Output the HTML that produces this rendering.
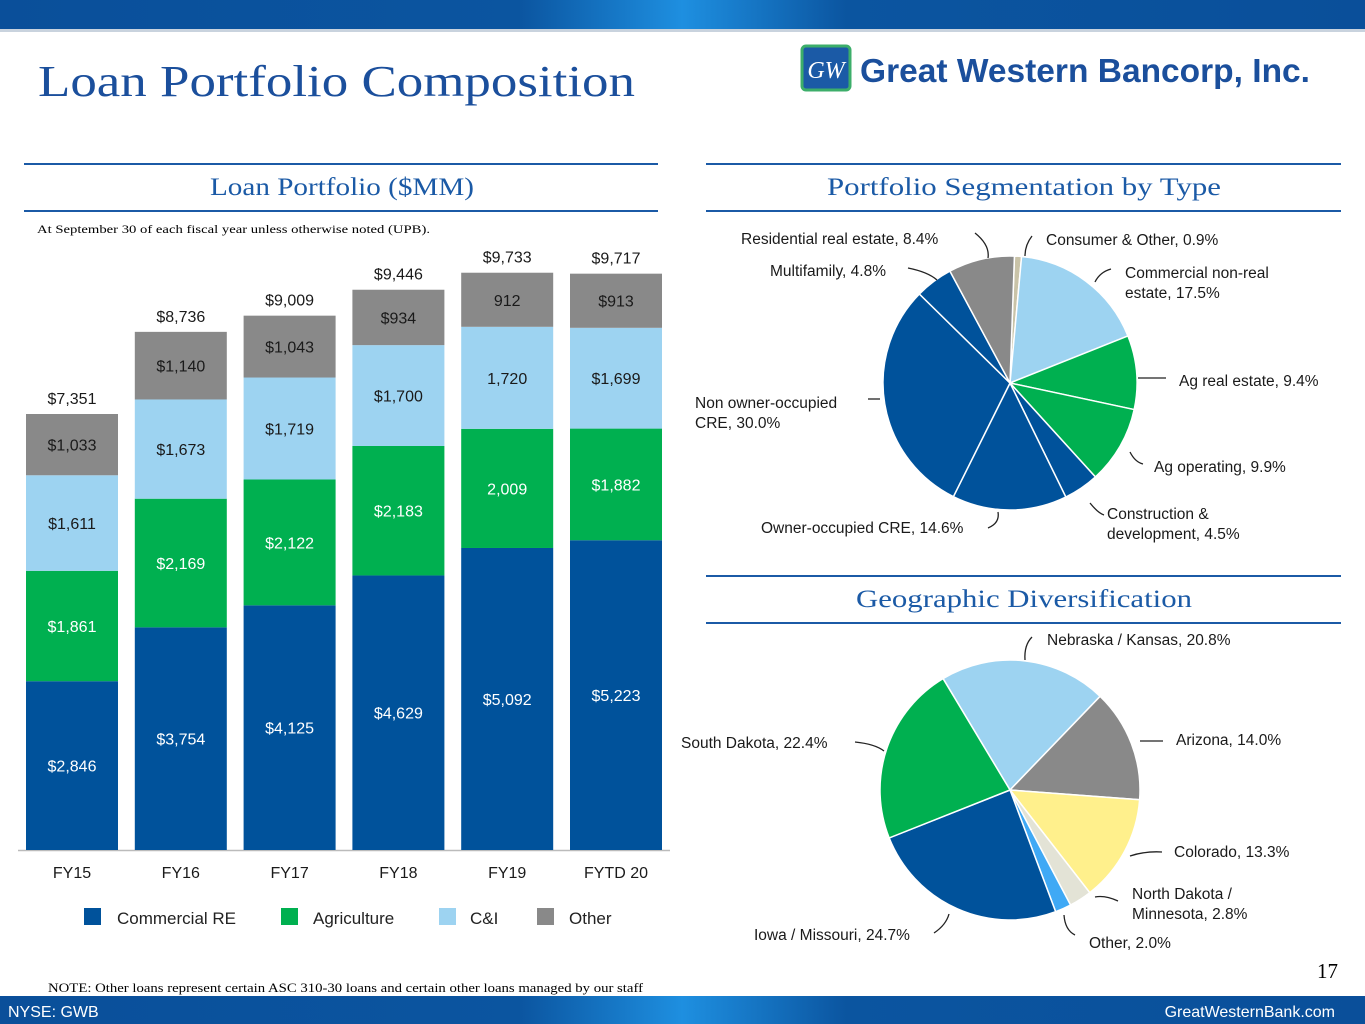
<!DOCTYPE html>
<html><head><meta charset="utf-8"><style>
body{margin:0;width:1365px;height:1024px;overflow:hidden;background:#fff;font-family:"Liberation Sans",sans-serif;}
svg{display:block}
.serif{font-family:"Liberation Serif",serif}
</style></head><body>
<svg id="s" width="1365" height="1024" viewBox="0 0 1365 1024" xmlns="http://www.w3.org/2000/svg">
<defs>
<linearGradient id="band" x1="0" x2="1" y1="0" y2="0">
<stop offset="0" stop-color="#0a4f9a"/><stop offset="0.38" stop-color="#0b55a0"/><stop offset="0.5" stop-color="#1e8fe0"/><stop offset="0.62" stop-color="#0b55a0"/><stop offset="1" stop-color="#0a4f9a"/>
</linearGradient>
</defs>
<rect x="0" y="0" width="1365" height="29" fill="url(#band)"/>
<rect x="0" y="29" width="1365" height="3" fill="#c9d3de"/>
<rect x="0" y="996" width="1365" height="28" fill="url(#band)"/>
<text x="8" y="1017" font-size="16" fill="#fff">NYSE: GWB</text>
<text x="1335" y="1017" font-size="16" fill="#fff" text-anchor="end">GreatWesternBank.com</text>
<text class="serif" x="38" y="96" font-size="44" fill="#1b4f9c" textLength="597" lengthAdjust="spacingAndGlyphs">Loan Portfolio Composition</text>
<g>
<rect x="802" y="46" width="48" height="44" rx="4" fill="#1b5aa6" stroke="#3cae6a" stroke-width="3"/>
<text x="826" y="78" font-size="24" fill="#fff" font-style="italic" text-anchor="middle" class="serif">GW</text>
<text x="860" y="82" font-size="33" font-weight="bold" fill="#1b4f9c" textLength="450" lengthAdjust="spacingAndGlyphs">Great Western Bancorp, Inc.</text>
</g>
<line x1="24" y1="164" x2="658" y2="164" stroke="#1b5aa6" stroke-width="2"/>
<line x1="24" y1="211" x2="658" y2="211" stroke="#1b5aa6" stroke-width="2"/>
<line x1="706" y1="164" x2="1341" y2="164" stroke="#1b5aa6" stroke-width="2"/>
<line x1="706" y1="211" x2="1341" y2="211" stroke="#1b5aa6" stroke-width="2"/>
<line x1="706" y1="576" x2="1341" y2="576" stroke="#1b5aa6" stroke-width="2"/>
<line x1="706" y1="623" x2="1341" y2="623" stroke="#1b5aa6" stroke-width="2"/>
<text class="serif" x="210" y="195" font-size="25" fill="#1b5aa6" textLength="264" lengthAdjust="spacingAndGlyphs">Loan Portfolio ($MM)</text>
<text class="serif" x="827" y="195" font-size="25" fill="#1b5aa6" textLength="394" lengthAdjust="spacingAndGlyphs">Portfolio Segmentation by Type</text>
<text class="serif" x="856" y="607" font-size="25" fill="#1b5aa6" textLength="336" lengthAdjust="spacingAndGlyphs">Geographic Diversification</text>
<text class="serif" x="37" y="233" font-size="12" fill="#000" textLength="393" lengthAdjust="spacingAndGlyphs">At September 30 of each fiscal year unless otherwise noted (UPB).</text>
<text class="serif" x="48" y="992" font-size="12.5" fill="#000" textLength="595" lengthAdjust="spacingAndGlyphs">NOTE: Other loans represent certain ASC 310-30 loans and certain other loans managed by our staff</text>
<text class="serif" x="1338" y="978" font-size="21" fill="#000" text-anchor="end">17</text>
<g id="bars"></g><g id="pie1"></g><g id="pie2"></g>
<g font-size="17" fill="#222">
<rect x="84" y="908" width="17" height="17" fill="#00529b"/><text x="117" y="924">Commercial RE</text>
<rect x="281" y="908" width="17" height="17" fill="#00b050"/><text x="313" y="924">Agriculture</text>
<rect x="439" y="908" width="17" height="17" fill="#9dd3f1"/><text x="470" y="924">C&amp;I</text>
<rect x="537" y="908" width="17" height="17" fill="#898989"/><text x="569" y="924">Other</text>
</g>
</svg>
<script>
const years=["FY15","FY16","FY17","FY18","FY19","FYTD 20"];
const cre=[2846,3754,4125,4629,5092,5223];
const ag=[1861,2169,2122,2183,2009,1882];
const ci=[1611,1673,1719,1700,1720,1699];
const oth=[1033,1140,1043,934,912,913];
const totals=["$7,351","$8,736","$9,009","$9,446","$9,733","$9,717"];
const creL=["$2,846","$3,754","$4,125","$4,629","$5,092","$5,223"];
const agL=["$1,861","$2,169","$2,122","$2,183","2,009","$1,882"];
const ciL=["$1,611","$1,673","$1,719","$1,700","1,720","$1,699"];
const othL=["$1,033","$1,140","$1,043","$934","912","$913"];
const segTypes=["Consumer & Other","Commercial non-real estate","Ag real estate","Ag operating","Construction & development","Owner-occupied CRE","Non owner-occupied CRE","Multifamily","Residential real estate"];
const segVals=[0.9,17.5,9.4,9.9,4.5,14.6,30.0,4.8,8.4];
const geoNames=["Nebraska / Kansas","Arizona","Colorado","North Dakota / Minnesota","Other","Iowa / Missouri","South Dakota"];
const geoVals=[20.8,14.0,13.3,2.8,2.0,24.7,22.4];
const NS="http://www.w3.org/2000/svg";
function mk(p,tag,a){const e=document.createElementNS(NS,tag);for(const k in a)e.setAttribute(k,a[k]);p.appendChild(e);return e;}
const base=850,scale=436/7351;
const y=v=>base-v*scale;
const x0=26,pitch=108.8,bw=92;
const xb=i=>x0+i*pitch;
const bars=document.getElementById('bars');
mk(bars,'line',{x1:18,y1:850.5,x2:670,y2:850.5,stroke:'#bbb','stroke-width':1.5});
const series=[[cre,creL,'#00529b','#fff','commercial-re'],[ag,agL,'#00b050','#fff','agriculture'],[ci,ciL,'#9dd3f1','#1a1a1a','c-and-i'],[oth,othL,'#898989','#1a1a1a','other']];
years.forEach((yr,i)=>{
  let cum=0;
  series.forEach(s=>{
    const v=s[0][i];
    const r=mk(bars,'rect',{x:xb(i),y:y(cum+v),width:bw,height:v*scale,fill:s[2]});
    
    
    const t=mk(bars,'text',{x:xb(i)+bw/2,y:y(cum+v/2)+6,'font-size':16,fill:s[3],'text-anchor':'middle'});
    t.textContent=s[1][i];
    
    
    cum+=v;
  });
  const tt=mk(bars,'text',{x:xb(i)+bw/2,y:y(cum)-10,'font-size':16,fill:'#1a1a1a','text-anchor':'middle'});
  tt.textContent=totals[i];
  
  
  const xl=mk(bars,'text',{x:xb(i)+bw/2,y:878,'font-size':16,fill:'#1a1a1a','text-anchor':'middle'});
  xl.textContent=yr;
  
  
});
function pie(g,vals,cx,cy,r,start,colors,name){
  const tot=vals.reduce((a,b)=>a+b,0);let a=start;
  vals.forEach((v,i)=>{
    const a2=a+v/tot*360;
    const p=d=>[cx+r*Math.sin(d*Math.PI/180),cy-r*Math.cos(d*Math.PI/180)];
    const [x1,y1]=p(a),[x2,y2]=p(a2);
    const path=mk(g,'path',{d:`M${cx},${cy}L${x1},${y1}A${r},${r} 0 ${a2-a>180?1:0} 1 ${x2},${y2}Z`,fill:colors[i],stroke:'#fff','stroke-width':1.5});
    
    
    a=a2;
  });
}
pie(document.getElementById('pie1'),segVals,1010,383,127,2,['#c9c3a8','#9dd3f1','#00b050','#00b050','#00529b','#00529b','#00529b','#00529b','#898989'],'segment');
pie(document.getElementById('pie2'),geoVals,1010,790,130,-31,['#9dd3f1','#898989','#fff08c','#e3e3d6','#3fa9f5','#00529b','#00b050'],'geo');
function lbl(g,x,yy,lines,anchor){lines.forEach((l,j)=>{const t=mk(g,'text',{x:x,y:yy+j*20,'font-size':15.5,fill:'#1a1a1a','text-anchor':anchor||'start'});t.textContent=l;

});}
function ld(g,d){mk(g,'path',{d:d,fill:'none',stroke:'#222','stroke-width':1.3});}
const p1=document.getElementById('pie1');
lbl(p1,741,244,["Residential real estate, "+segVals[8].toFixed(1)+"%"]);
lbl(p1,1046,245,["Consumer & Other, "+segVals[0].toFixed(1)+"%"]);
lbl(p1,770,276,["Multifamily, "+segVals[7].toFixed(1)+"%"]);
lbl(p1,1125,278,["Commercial non-real","estate, "+segVals[1].toFixed(1)+"%"]);
lbl(p1,1179,386,["Ag real estate, "+segVals[2].toFixed(1)+"%"]);
lbl(p1,695,408,["Non owner-occupied","CRE, "+segVals[6].toFixed(1)+"%"]);
lbl(p1,1154,472,["Ag operating, "+segVals[3].toFixed(1)+"%"]);
lbl(p1,1107,519,["Construction &","development, "+segVals[4].toFixed(1)+"%"]);
lbl(p1,761,533,["Owner-occupied CRE, "+segVals[5].toFixed(1)+"%"]);
ld(p1,"M975,233 Q990,245 988,258");ld(p1,"M1032,236 Q1025,245 1025,256");ld(p1,"M908,268 Q928,272 937,280");
ld(p1,"M1111,269 Q1100,272 1095,282");ld(p1,"M1138,378 L1166,378");ld(p1,"M868,399 L880,399");
ld(p1,"M1130,452 Q1135,462 1143,464");ld(p1,"M988,528 Q1000,523 998,512");ld(p1,"M1090,503 Q1098,513 1104,515");
const p2=document.getElementById('pie2');
lbl(p2,1047,645,["Nebraska / Kansas, "+geoVals[0].toFixed(1)+"%"]);
lbl(p2,1176,745,["Arizona, "+geoVals[1].toFixed(1)+"%"]);
lbl(p2,681,748,["South Dakota, "+geoVals[6].toFixed(1)+"%"]);
lbl(p2,1174,857,["Colorado, "+geoVals[2].toFixed(1)+"%"]);
lbl(p2,1132,899,["North Dakota /","Minnesota, "+geoVals[3].toFixed(1)+"%"]);
lbl(p2,754,940,["Iowa / Missouri, "+geoVals[5].toFixed(1)+"%"]);
lbl(p2,1089,948,["Other, "+geoVals[4].toFixed(1)+"%"]);
ld(p2,"M1032,637 Q1024,645 1025,660");ld(p2,"M1140,741 L1163,741");ld(p2,"M855,742 Q875,744 884,751");
ld(p2,"M1130,856 Q1145,851 1162,852");ld(p2,"M1095,897 Q1105,895 1118,901");ld(p2,"M934,933 Q946,925 949,914");ld(p2,"M1064,915 Q1065,930 1075,935");
</script>
</body></html>
